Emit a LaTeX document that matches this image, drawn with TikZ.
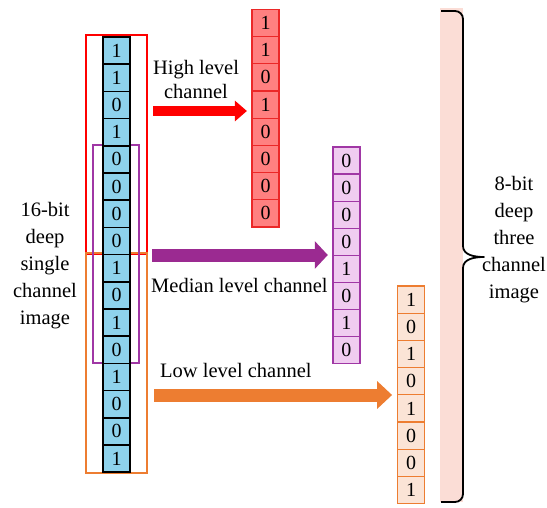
\documentclass[tikz,border=0pt]{standalone}
\usepackage{fontspec}
\setmainfont{Liberation Serif}
\usetikzlibrary{arrows.meta}
\definecolor{cellblue}{RGB}{142,210,236}
\definecolor{hifill}{RGB}{255,128,128}
\definecolor{hiline}{RGB}{235,40,40}
\definecolor{mdfill}{RGB}{240,204,240}
\definecolor{mdline}{RGB}{160,55,165}
\definecolor{lofill}{RGB}{251,228,214}
\definecolor{loline}{RGB}{237,125,49}
\definecolor{pinkbg}{RGB}{251,221,214}
\definecolor{arrowpurple}{RGB}{155,42,145}
\begin{document}
\begin{tikzpicture}[x=1pt,y=-1pt,
  bitcell/.style={draw, inner sep=0pt, minimum width=27pt, minimum height=27.2pt,
    font=\fontsize{20}{24}\selectfont},
  maincell/.style={bitcell, fill=cellblue, draw=black, line width=1.6pt},
  hicell/.style={bitcell, fill=hifill, draw=hiline, line width=1.2pt},
  mdcell/.style={bitcell, fill=mdfill, draw=mdline, line width=1.2pt, minimum height=27.05pt},
  locell/.style={bitcell, fill=lofill, draw=loline, line width=1.2pt},
  groupbox/.style={draw, inner sep=0pt, line width=1.4pt},
  label/.style={font=\fontsize{20.5}{27}\selectfont, align=center, inner sep=0pt},
]
\useasboundingbox (0,0) rectangle (547,507);

% group boxes
\node[groupbox, draw=red, minimum width=61pt, minimum height=219pt] (hibox) at (116.5,144.5) {};
\node[groupbox, draw=loline, minimum width=61pt, minimum height=220pt] (lobox) at (116.5,363) {};
\node[groupbox, draw=mdline, minimum width=46pt, minimum height=218pt] (mdbox) at (116,254) {};

% 16-bit column
\foreach \b [count=\i] in {1,1,0,1,0,0,0,0,1,0,1,0,1,0,0,1}{
  \node[maincell] (m\i) at (116.5,{37+(\i-0.5)*27.2}) {\b};
}

% high level column
\foreach \b [count=\i] in {1,1,0,1,0,0,0,0}{
  \node[hicell] (r\i) at (265.5,{9.3+(\i-0.5)*27.2}) {\b};
}
% median level column
\foreach \b [count=\i] in {0,0,0,0,1,0,1,0}{
  \node[mdcell] (p\i) at (346.4,{147+(\i-0.5)*27.05}) {\b};
}
% low level column
\foreach \b [count=\i] in {1,0,1,0,1,0,0,1}{
  \node[locell] (o\i) at (411.2,{286+(\i-0.5)*27.2}) {\b};
}

% pink band and brace
\fill[pinkbg] (440,8) rectangle (463,502);
\draw[line width=1.8pt, line join=round]
  (441,11) -- (455,11) to[out=0,in=90] (463,19) -- (463,246)
  to[out=-90,in=180] (484,257) coordinate (bracetip)
  to[out=180,in=90] (463,268) -- (463,494) to[out=-90,in=0] (455,502) -- (441,502);

% arrows
\coordinate (hs) at (153,111);
\coordinate (ms) at (152,255);
\coordinate (ls) at (154,395);
\draw[line width=10pt, red, -{Triangle[length=12pt,width=20pt]}, shorten >=4.5pt] (hs) -- (hs -| r1.west);
\draw[line width=13pt, arrowpurple, -{Triangle[length=13pt,width=27pt]}, shorten >=4.5pt] (ms) -- (ms -| p1.west);
\draw[line width=13pt, loline, -{Triangle[length=15pt,width=27pt]}, shorten >=5pt] (ls) -- (ls -| o1.west);

% labels
\node[label, font=\fontsize{20.5}{24}\selectfont] (hitext) at (196,79) {High level\\channel};
\node[label, anchor=base west] (mdtext) at (151,292) {Median level channel};
\node[label, anchor=base west] (lotext) at (160,377) {Low level channel};
\node[label] (lefttext) at (45,266) {16-bit\\deep\\single\\channel\\image};
\node[label] (righttext) at (514,240) {8-bit\\deep\\three\\channel\\image};
\end{tikzpicture}
\end{document}
